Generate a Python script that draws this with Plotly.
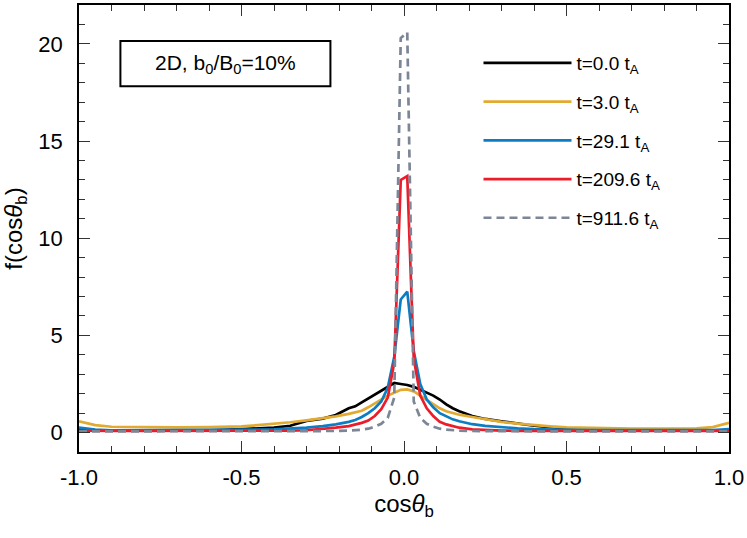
import plotly.graph_objects as go

# bin centres (dense near the peak, coarser in the tails)
cos_theta = [-1.0, -0.95, -0.9, -0.8, -0.7, -0.6, -0.5, -0.45, -0.4, -0.35, -0.3, -0.25,
             -0.21, -0.17, -0.15, -0.13, -0.11, -0.09, -0.07, -0.05, -0.03, -0.01,
             0.01, 0.03, 0.05, 0.07, 0.09, 0.11, 0.13, 0.15, 0.17, 0.21, 0.25,
             0.3, 0.35, 0.4, 0.45, 0.5, 0.6, 0.7, 0.8, 0.9, 0.95, 1.0]

f_t0 = [0.12, 0.10, 0.10, 0.10, 0.10, 0.12, 0.18, 0.20, 0.25, 0.35, 0.60, 0.72,
        0.90, 1.25, 1.35, 1.55, 1.75, 1.95, 2.15, 2.35, 2.55, 2.50,
        2.45, 2.35, 2.20, 2.05, 1.90, 1.70, 1.45, 1.25, 1.10, 0.85, 0.70,
        0.58, 0.45, 0.35, 0.28, 0.22, 0.15, 0.12, 0.10, 0.10, 0.10, 0.10]

f_t3 = [0.58, 0.38, 0.30, 0.27, 0.27, 0.28, 0.32, 0.38, 0.45, 0.53, 0.63, 0.73,
        0.83, 0.96, 1.03, 1.12, 1.30, 1.50, 1.70, 1.90, 2.05, 2.20,
        2.22, 2.12, 1.90, 1.68, 1.48, 1.25, 1.10, 1.00, 0.92, 0.80, 0.68,
        0.55, 0.46, 0.38, 0.32, 0.27, 0.22, 0.20, 0.20, 0.22, 0.28, 0.50]

f_t29 = [0.25, 0.15, 0.12, 0.12, 0.12, 0.12, 0.13, 0.15, 0.17, 0.20, 0.25, 0.33,
         0.42, 0.55, 0.65, 0.80, 1.00, 1.25, 1.60, 2.30, 3.90, 6.85,
         7.25, 4.20, 2.50, 1.70, 1.30, 1.00, 0.82, 0.68, 0.58, 0.43, 0.34,
         0.27, 0.22, 0.18, 0.15, 0.14, 0.13, 0.12, 0.12, 0.12, 0.13, 0.18]

f_t209 = [0.10, 0.08, 0.08, 0.08, 0.08, 0.08, 0.08, 0.08, 0.09, 0.10, 0.12, 0.18,
          0.25, 0.33, 0.40, 0.50, 0.62, 0.85, 1.20, 1.80, 3.60, 13.0,
          13.2, 3.80, 1.90, 1.25, 0.85, 0.55, 0.42, 0.32, 0.25, 0.16, 0.12,
          0.10, 0.09, 0.08, 0.08, 0.08, 0.08, 0.08, 0.08, 0.08, 0.08, 0.08]

f_t911 = [0.06, 0.06, 0.06, 0.06, 0.06, 0.06, 0.06, 0.06, 0.06, 0.06, 0.06, 0.07,
          0.08, 0.10, 0.12, 0.15, 0.20, 0.30, 0.45, 0.75, 1.80, 20.3,
          20.6, 1.60, 0.75, 0.45, 0.30, 0.20, 0.15, 0.12, 0.10, 0.08, 0.07,
          0.06, 0.06, 0.06, 0.06, 0.06, 0.06, 0.06, 0.06, 0.06, 0.06, 0.06]

labels = ["t=0.0 t<sub>A</sub>", "t=3.0 t<sub>A</sub>", "t=29.1 t<sub>A</sub>",
          "t=209.6 t<sub>A</sub>", "t=911.6 t<sub>A</sub>"]
colors = ["#000000", "#E3AA32", "#0C7DC3", "#EC1C2A", "#7D8696"]
dashes = ["solid", "solid", "solid", "solid", "8px,5px"]

x_tickvals = [-1.0, -0.5, 0.0, 0.5, 1.0]
x_ticktext = ["-1.0", "-0.5", "0.0", "0.5", "1.0"]
y_tickvals = [0, 5, 10, 15, 20]

FONT = "Liberation Sans, Arial, sans-serif"

fig = go.Figure()
for i, (ys, name) in enumerate(zip([f_t0, f_t3, f_t29, f_t209, f_t911], labels)):
    fig.add_trace(go.Scatter(
        x=cos_theta, y=ys, mode="lines", name=name, legendgroup=str(i),
        line=dict(color=colors[i], width=2.7, dash=dashes[i]),
    ))

axis_common = dict(
    showline=True, linecolor="#000000", linewidth=1.5, mirror="ticks",
    ticks="inside", ticklen=11, tickwidth=1.2, tickcolor="#333333",
    showgrid=False, zeroline=False, automargin=False,
    tickfont=dict(family=FONT, size=22, color="#000000"),
)

fig.update_xaxes(
    range=[-1.0, 1.0], tickvals=x_tickvals, ticktext=x_ticktext,
    minor=dict(dtick=0.1, ticks="inside", ticklen=6, tickcolor="#333333", tickwidth=1),
    ticklabelstandoff=5,
    title=dict(text="cos<i>θ</i><sub>b</sub>", font=dict(family=FONT, size=24), standoff=2),
    **axis_common,
)
fig.update_yaxes(
    range=[-1.0, 22.0], tickvals=y_tickvals,
    minor=dict(dtick=1, ticks="inside", ticklen=6, tickcolor="#333333", tickwidth=1),
    ticklabelstandoff=10,
    title=dict(text="f(cos<i>θ</i><sub>b</sub>)", font=dict(family=FONT, size=24), standoff=10),
    **axis_common,
)

fig.add_shape(type="rect", xref="paper", yref="paper",
              x0=0.0637, x1=0.3868, y0=0.818, y1=0.9195,
              line=dict(color="#000000", width=2), fillcolor="rgba(0,0,0,0)")
fig.add_annotation(xref="paper", yref="paper", x=0.2252, y=0.869,
                   xanchor="center", yanchor="middle",
                   text="2D, b<sub>0</sub>/B<sub>0</sub>=10%", showarrow=False,
                   font=dict(family=FONT, size=21, color="#000000"))

fig.update_layout(
    width=747, height=538,
    margin=dict(l=79, r=18, t=5, b=86),
    plot_bgcolor="#FFFFFF", paper_bgcolor="#FFFFFF",
    font=dict(family=FONT, color="#000000"),
    legend=dict(x=0.6146, y=0.9125, xanchor="left", yanchor="top",
                itemwidth=88, tracegroupgap=11,
                font=dict(family=FONT, size=19, color="#000000"),
                bgcolor="rgba(0,0,0,0)"),
)

fig.write_html("out.html", config={"displayModeBar": False},
               post_script="document.body.style.margin='0';")
